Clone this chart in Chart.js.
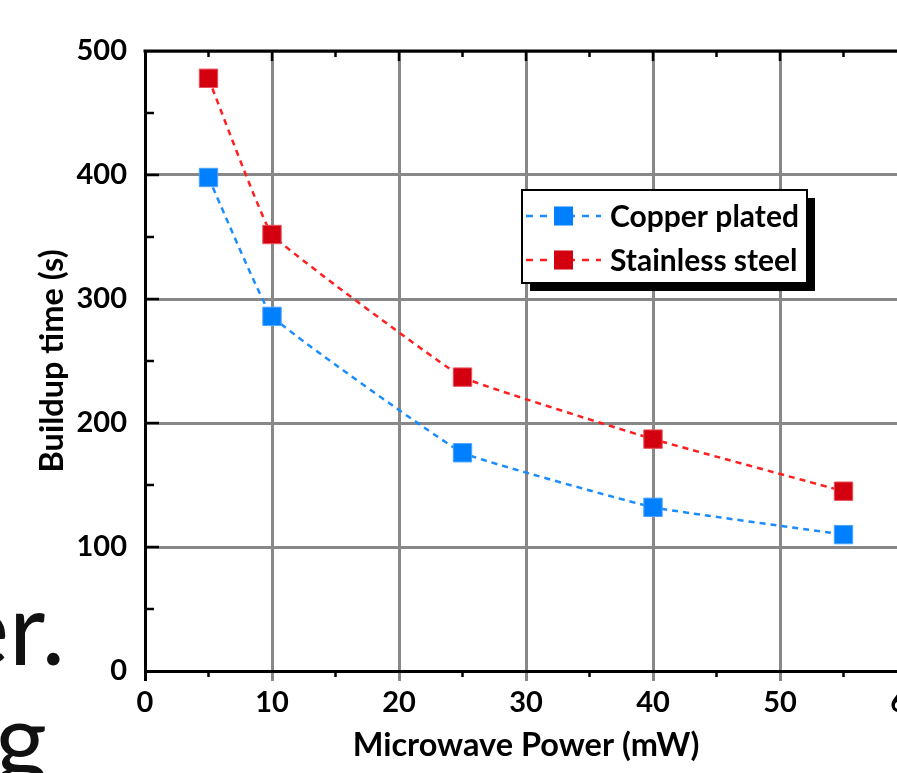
<!DOCTYPE html>
<html>
<head>
<meta charset="utf-8">
<script src="https://cdn.jsdelivr.net/npm/chart.js@4.4.1/dist/chart.umd.min.js"></script>
<style>
  html, body { margin: 0; padding: 0; background: #fff; overflow: hidden; }
  #wrap { position: relative; width: 897px; height: 773px; overflow: hidden; }
  #chart { position: absolute; left: 0; top: 0; }
  .slide { position: absolute; font-family: Lato, sans-serif; font-size: 100px; line-height: 1; color: #111; white-space: nowrap; }
</style>
</head>
<body>
<div id="wrap">
  <div class="slide" style="right: 832px; top: 576px;">er.</div>
  <div class="slide" style="right: 850px; top: 687px;">g</div>
  <canvas id="chart" width="940" height="773"></canvas>
</div>
<script>
const powerMw = [5, 10, 25, 40, 55];
const copperPlated = [398, 286, 176, 132, 110];
const stainlessSteel = [478, 352, 237, 187, 145];
const seriesNames = ['Copper plated', 'Stainless steel'];
const xTicks = [0, 10, 20, 30, 40, 50, 60];
const yTicks = [0, 100, 200, 300, 400, 500];

const boldFont = (size) => ({ family: 'Lato', weight: 'bold', size: size });

// Minor ticks, top frame and the boxed legend with its shadow
const framePlugin = {
    id: 'frame',
    afterDraw(chart) {
        const ctx = chart.ctx;
        const area = chart.chartArea;
        const xs = chart.scales.x;
        const ys = chart.scales.y;
        ctx.save();
        ctx.strokeStyle = '#000';
        ctx.lineWidth = 3;

        // top border
        ctx.beginPath();
        ctx.moveTo(area.left - 1.5, area.top);
        ctx.lineTo(area.right, area.top);
        ctx.stroke();

        ctx.lineWidth = 2.5;
        // x ticks: top inward, bottom minor outward
        for (let v = 5; v < 60; v += 5) {
            const px = xs.getPixelForValue(v);
            const major = v % 10 === 0;
            ctx.beginPath();
            ctx.moveTo(px, area.top);
            ctx.lineTo(px, area.top + (major ? 10 : 6));
            if (!major) {
                ctx.moveTo(px, area.bottom);
                ctx.lineTo(px, area.bottom + 6);
            }
            ctx.stroke();
        }
        // y ticks: inward on left axis
        for (let v = 50; v < 500; v += 50) {
            const py = ys.getPixelForValue(v);
            const major = v % 100 === 0;
            ctx.beginPath();
            ctx.moveTo(area.left, py);
            ctx.lineTo(area.left + (major ? 14 : 9), py);
            ctx.stroke();
        }

        // legend
        const box = { x: 522, y: 190, w: 285, h: 93 };
        ctx.fillStyle = '#000';
        ctx.fillRect(box.x + 8, box.y + 8, box.w, box.h);
        ctx.fillStyle = '#fff';
        ctx.fillRect(box.x, box.y, box.w, box.h);
        ctx.lineWidth = 2;
        ctx.strokeRect(box.x, box.y, box.w, box.h);

        chart.data.datasets.forEach((ds, i) => {
            const cy = box.y + 26 + i * 44;
            ctx.strokeStyle = ds.borderColor;
            ctx.lineWidth = 2.5;
            ctx.setLineDash([7, 7]);
            ctx.beginPath();
            ctx.moveTo(526, cy);
            ctx.lineTo(601, cy);
            ctx.stroke();
            ctx.setLineDash([]);
            ctx.fillStyle = ds.pointBackgroundColor;
            ctx.fillRect(554, cy - 9.5, 19, 19);
            ctx.fillStyle = '#000';
            ctx.font = 'bold 30px Lato';
            ctx.textBaseline = 'middle';
            ctx.textAlign = 'left';
            ctx.fillText(ds.label, 610, cy + 1);
        });
        ctx.restore();
    }
};

const toPoints = (ys) => powerMw.map((x, i) => ({ x: x, y: ys[i] }));

new Chart(document.getElementById('chart'), {
    type: 'line',
    data: {
        datasets: [{
            label: seriesNames[0],
            data: toPoints(copperPlated),
            borderColor: '#1a8cff',
            borderWidth: 2.5,
            borderDash: [6, 5],
            pointStyle: 'rect',
            pointRadius: 13,
            pointBackgroundColor: '#0080ff',
            pointBorderColor: '#4da3ff',
            pointBorderWidth: 1,
            tension: 0.08,
            fill: false
        }, {
            label: seriesNames[1],
            data: toPoints(stainlessSteel),
            borderColor: '#ff1f1f',
            borderWidth: 2.5,
            borderDash: [6, 5],
            pointStyle: 'rect',
            pointRadius: 13,
            pointBackgroundColor: '#d3000f',
            pointBorderColor: '#e8505a',
            pointBorderWidth: 1,
            tension: 0.08,
            fill: false
        }]
    },
    options: {
        responsive: false,
        animation: false,
        layout: { padding: { top: 51, right: 33, bottom: 0, left: 0 } },
        plugins: {
            legend: { display: false },
            tooltip: { enabled: false }
        },
        scales: {
            x: {
                type: 'linear',
                min: 0,
                max: 60,
                afterBuildTicks: (s) => { s.ticks = xTicks.map(v => ({ value: v })); },
                afterFit: (s) => { s.height = 102; },
                grid: {
                    color: '#888',
                    lineWidth: 3,
                    drawTicks: true,
                    tickLength: 10,
                    tickColor: (c) => (c.tick && c.tick.value === 0 ? '#000' : '#888')
                },
                border: { color: '#000', width: 3 },
                ticks: { color: '#000', font: boldFont(29), padding: 4, maxRotation: 0 },
                title: {
                    display: true,
                    text: 'Microwave Power (mW)',
                    color: '#000',
                    font: boldFont(32.5),
                    padding: { top: 0, bottom: 8 }
                }
            },
            y: {
                type: 'linear',
                min: 0,
                max: 500,
                afterBuildTicks: (s) => { s.ticks = yTicks.map(v => ({ value: v })); },
                afterFit: (s) => { s.width = 145; },
                grid: { color: '#888', lineWidth: 3, drawTicks: false },
                border: { color: '#000', width: 3 },
                ticks: { color: '#000', font: boldFont(29), padding: 18 },
                title: {
                    display: true,
                    text: 'Buildup time (s)',
                    color: '#000',
                    font: boldFont(32.5),
                    padding: { top: 33, bottom: 0 }
                }
            }
        }
    },
    plugins: [framePlugin]
});
</script>
</body>
</html>
